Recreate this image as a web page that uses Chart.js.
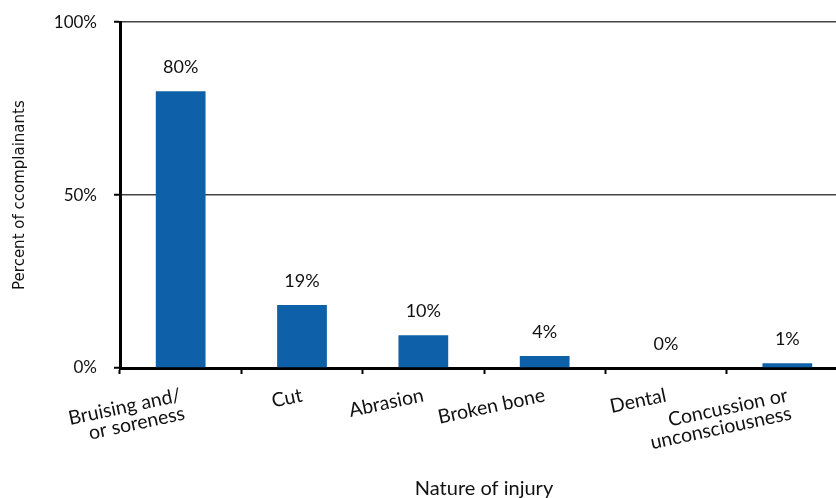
<!DOCTYPE html>
<html>
<head>
<meta charset="utf-8">
<script src="https://cdn.jsdelivr.net/npm/chart.js@4.4.0/dist/chart.umd.min.js"></script>
<style>
  html, body { margin: 0; padding: 0; overflow: hidden; background: #fff; }
  #wrap { width: 836px; height: 498px; overflow: hidden; }
  canvas { display: block; margin-top: -5px; }
</style>
</head>
<body>
<div id="wrap"><canvas id="injuryChart" width="850" height="503"></canvas></div>
<script>
(function () {
  'use strict';

  const categories = [
    ['Bruising and/', 'or soreness'],
    'Cut',
    'Abrasion',
    'Broken bone',
    'Dental',
    ['Concussion or', 'unconsciousness']
  ];
  const percentValues = [80, 18.2, 9.5, 3.5, 0, 1.4];
  const valueLabels = ['80%', '19%', '10%', '4%', '0%', '1%'];
  const yTicks = [0, 50, 100];

  const mainFont = 'Lato, "Open Sans", sans-serif';

  // percent labels above each bar
  const barLabels = {
    id: 'barLabels',
    afterDatasetsDraw(chart) {
      const ctx = chart.ctx;
      const meta = chart.getDatasetMeta(0);
      ctx.save();
      ctx.font = '18px ' + mainFont;
      ctx.fillStyle = '#111';
      ctx.textAlign = 'center';
      ctx.textBaseline = 'middle';
      meta.data.forEach((bar, i) => {
        ctx.fillText(valueLabels[i], bar.x, bar.y - 24);
      });
      ctx.restore();
    }
  };

  const ctx = document.getElementById('injuryChart').getContext('2d');
  new Chart(ctx, {
    type: 'bar',
    data: {
      labels: categories,
      datasets: [{
        data: percentValues,
        backgroundColor: '#0E60A8',
        borderWidth: 0,
        barPercentage: 0.41,
        categoryPercentage: 1.0
      }]
    },
    options: {
      responsive: false,
      animation: false,
      layout: { padding: { top: 0, right: 2, bottom: 0, left: 0 } },
      plugins: {
        legend: { display: false },
        tooltip: { enabled: false }
      },
      scales: {
        x: {
          offset: true,
          grid: {
            display: true,
            offset: true,
            drawOnChartArea: false,
            drawTicks: true,
            tickLength: 6,
            tickColor: '#000',
            tickWidth: 2
          },
          border: { display: true, color: '#000', width: 3 },
          ticks: {
            minRotation: 12,
            maxRotation: 12,
            autoSkip: false,
            padding: 12,
            color: '#111',
            font: { family: mainFont, size: 19.5, lineHeight: 0.95 }
          },
          title: {
            display: true,
            text: 'Nature of injury',
            color: '#111',
            font: { family: mainFont, size: 20 },
            padding: { top: 0, bottom: -3 }
          },
          afterFit(scale) { scale.height = 130; }
        },
        y: {
          min: 0,
          max: 100,
          afterBuildTicks(scale) {
            scale.ticks = yTicks.map(v => ({ value: v }));
          },
          grid: {
            color: ctx2 => (ctx2.tick && ctx2.tick.value === 0 ? 'rgba(0,0,0,0)' : '#444'),
            lineWidth: 1.5,
            drawTicks: true,
            tickLength: 6,
            tickColor: '#000',
            tickWidth: 2
          },
          border: { display: true, color: '#000', width: 3 },
          ticks: {
            padding: 17,
            color: '#111',
            font: { family: mainFont, size: 17 },
            callback: v => v + '%'
          },
          title: {
            display: true,
            text: 'Percent of ccomplainants',
            color: '#111',
            font: { family: '"DejaVu Sans", sans-serif', size: 15 },
            padding: { top: 11, bottom: 0 }
          },
          afterFit(scale) { scale.width = 120; }
        }
      }
    },
    plugins: [barLabels]
  });
})();
</script>
</body>
</html>
